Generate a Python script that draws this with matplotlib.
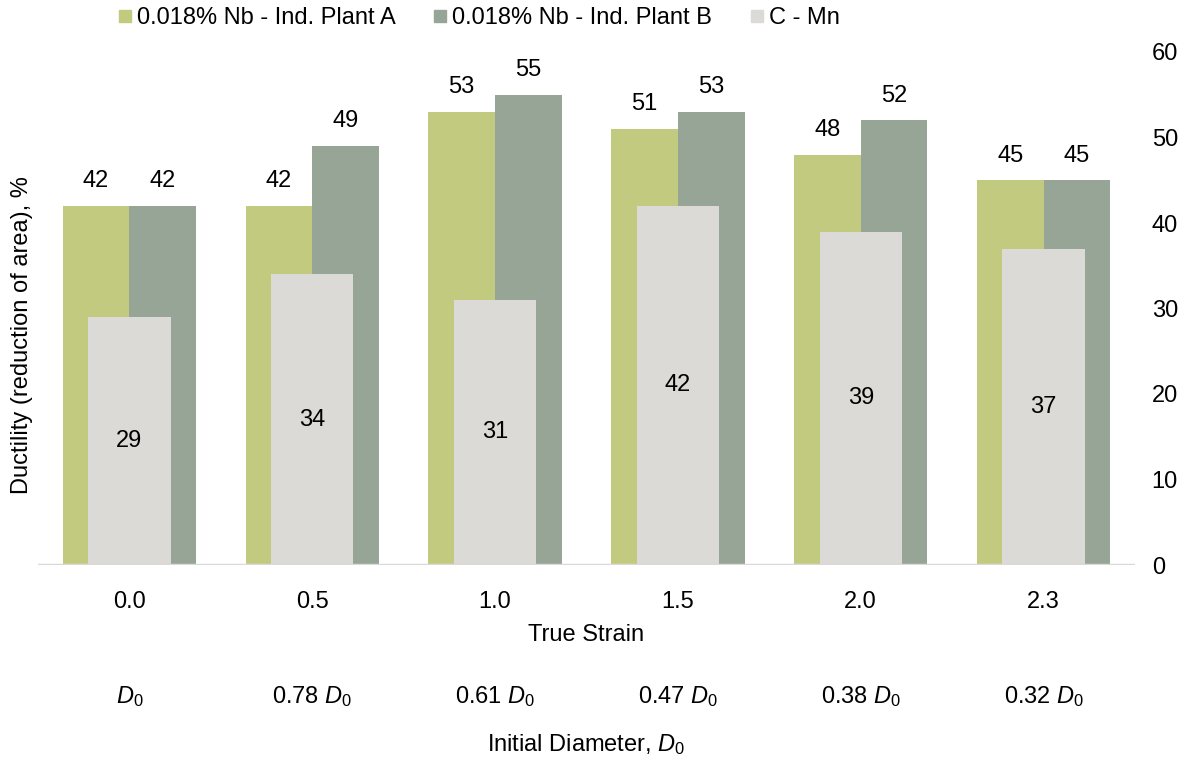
import numpy as np
import matplotlib
matplotlib.use('Agg')
import matplotlib.pyplot as plt
from matplotlib.lines import Line2D
import matplotlib.transforms as mtransforms

plt.rcParams['font.family'] = ['Liberation Sans', 'DejaVu Sans']
plt.rcParams['mathtext.fontset'] = 'custom'
plt.rcParams['mathtext.rm'] = 'Liberation Sans'
plt.rcParams['mathtext.it'] = 'Liberation Sans:italic'

# data
strain = ['0.0', '0.5', '1.0', '1.5', '2.0', '2.3']
diameter = [r'$\mathit{D}_{\mathit{0}}$', r'0.78 $\mathit{D}_{\mathit{0}}$', r'0.61 $\mathit{D}_{\mathit{0}}$',
            r'0.47 $\mathit{D}_{\mathit{0}}$', r'0.38 $\mathit{D}_{\mathit{0}}$', r'0.32 $\mathit{D}_{\mathit{0}}$']
plant_a = [42, 42, 53, 51, 48, 45]
plant_b = [42, 49, 55, 53, 52, 45]
c_mn = [29, 34, 31, 42, 39, 37]

col_a = '#c2ca7f'
col_b = '#97a596'
col_c = '#dbdad6'
fs = 17

fig = plt.figure(figsize=(11.97, 7.61), dpi=100)
ax = fig.add_axes([38/1197, 1-565/761, (1135-38)/1197, (565-52)/761])

x = np.arange(len(strain))
w = 0.365
wc = 0.45
ax.bar(x - w/2, plant_a, w, color=col_a, zorder=2)
ax.bar(x + w/2, plant_b, w, color=col_b, zorder=2)
ax.bar(x, c_mn, wc, color=col_c, zorder=3)

for i in range(len(x)):
    ax.text(x[i] - w/2, plant_a[i] + 1.6, str(plant_a[i]), ha='center', va='bottom', fontsize=fs)
    ax.text(x[i] + w/2, plant_b[i] + 1.6, str(plant_b[i]), ha='center', va='bottom', fontsize=fs)
    ax.text(x[i], c_mn[i]/2, str(c_mn[i]), ha='center', va='center', fontsize=fs, zorder=4)

ax.axhline(0, color='#d9d9d9', lw=2.5, zorder=4)
ax.set_xlim(-0.5, 5.5)
ax.set_ylim(0, 60)
ax.set_yticks(range(0, 61, 10))
ax.yaxis.tick_right()
ax.tick_params(axis='y', length=0, labelsize=fs, pad=12)
ax.set_xticks(x)
ax.set_xticklabels(strain)
ax.tick_params(axis='x', length=0, labelsize=fs, pad=19)
for s in ax.spines.values():
    s.set_visible(False)

trans = mtransforms.blended_transform_factory(ax.transData, fig.transFigure)
for i in range(len(x)):
    ax.text(x[i], 1-697/761, diameter[i], transform=trans, ha='center', va='center', fontsize=fs)

fig.text(0.5*(38+1135)/1197, 1-635/761, 'True Strain', ha='center', va='center', fontsize=fs)
fig.text(0.5*(38+1135)/1197, 1-745/761, r'Initial Diameter, $\mathit{D}_{\mathit{0}}$', ha='center', va='center', fontsize=fs)
fig.text(22/1197, 1-335/761, 'Ductility (reduction of area), %', rotation=90, ha='center', va='center', fontsize=fs)

handles = [Line2D([], [], marker='s', ls='', color=c, markersize=8) for c in (col_a, col_b, col_c)]
labels = ['0.018% Nb - Ind. Plant A', '0.018% Nb - Ind. Plant B', 'C - Mn']
fig.legend(handles, labels, loc='center left', bbox_to_anchor=(118/1197, 1-18/761), ncol=3,
           frameon=False, fontsize=fs, handlelength=0.6, handletextpad=0.2, columnspacing=1.6,
           borderaxespad=0, borderpad=0)

fig.savefig('out.png', dpi=100)
